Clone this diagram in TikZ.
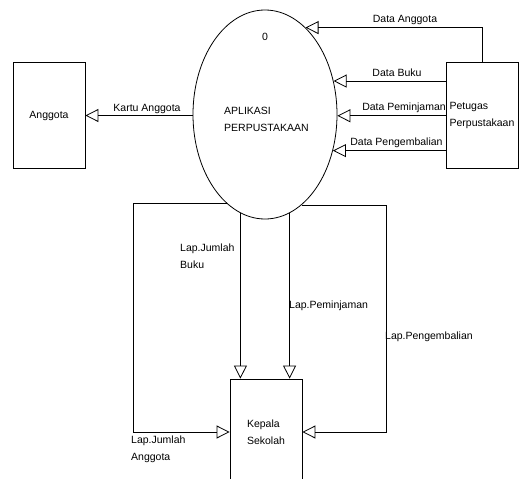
\documentclass[tikz,border=0pt]{standalone}
\usepackage{fontspec}
\setmainfont{Liberation Sans}
\usetikzlibrary{positioning,arrows.meta,shapes}

\begin{document}
\begin{tikzpicture}[
        x=1pt, y=-1pt,
        box/.style = {draw, line width=0.8pt, minimum width=72pt, minimum height=106pt, align=left},
        proc/.style = {draw, ellipse, line width=0.8pt, minimum width=144pt, minimum height=209pt, inner sep=0pt},
        flow/.style = {{Triangle[open,length=13pt,width=13pt]}-, line width=0.8pt},
        lbl/.style = {inner sep=0pt, align=left},
        every node/.style = {font=\fontsize{10.5}{17}\selectfont}
    ]
    \useasboundingbox (0,0) rectangle (523,479);

    \node[proc] (app) at (265,114.5) {};
    \node (zero) at (265,37) {0};
    \node[lbl, anchor=west] (apptext) at (224,119) {APLIKASI\\PERPUSTAKAAN};

    \node[box] (anggota) at (49,115.5) {Anggota};
    \node[box] (petugas) at (482,115) {Petugas\\Perpustakaan};
    \node[box] (kepala) at (266,432) {Kepala\\Sekolah};

    \coordinate (lleft) at (133,204);
    \coordinate (rright) at (386,204);

    % Arrows
    \draw[flow] (app.65) -| (petugas.north);
    \draw[flow] (app.26.2) -- (app.26.2 -| petugas.west);
    \draw[flow] (app.-1) -- (app.-1 -| petugas.west);
    \draw[flow] (app.-28.4) -- (app.-28.4 -| petugas.west);
    \draw[flow] (anggota.east) -- (anggota.east -| app.west);
    \draw[flow] (kepala.north -| app.256.9) -- (app.256.9);
    \draw[flow] (kepala.north -| app.284.3) -- (app.284.3);
    \draw[flow] (kepala.west) -| (app.247.4 -| lleft) -- (app.247.4);
    \draw[flow] (kepala.east) -| (app.292.6 -| rright) -- (app.292.6);

    % Labels
    \node[lbl] (ldanggota) at (405,20) {Data Anggota};
    \node[lbl] (ldbuku) at (397,73) {Data Buku};
    \node[lbl] (ldpinjam) at (404,108) {Data Peminjaman};
    \node[lbl] (ldkembali) at (396.5,143) {Data Pengembalian};
    \node[lbl] (lkartu) at (147,109) {Kartu Anggota};
    \node[lbl, anchor=west] (llbuku) at (180,256.5) {Lap.Jumlah\\Buku};
    \node[lbl, anchor=west] (llpinjam) at (289,306) {Lap.Peminjaman};
    \node[lbl, anchor=west] (llkembali) at (385,337) {Lap.Pengembalian};
    \node[lbl, anchor=west] (llanggota) at (131,449) {Lap.Jumlah\\Anggota};

\end{tikzpicture}
\end{document}
